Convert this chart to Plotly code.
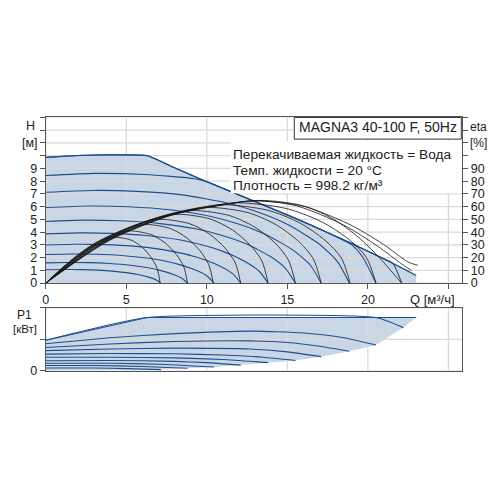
import plotly.graph_objects as go

# ---------------- data ----------------
Q_TICKS = [0, 5, 10, 15, 20, 25]
Q_TICK_TEXT = ["0", "5", "10", "15", "20", ""]
H_TICKS = list(range(14))
H_TICK_TEXT = ["0", "1", "2", "3", "4", "5", "6", "7", "8", "9", "", "", "", ""]
ETA_TICKS = list(range(0, 140, 10))
ETA_TICK_TEXT = ["0", "10", "20", "30", "40", "50", "60", "70", "80", "90", "", "", "", ""]
P_TICKS = [0, 1, 2]
P_TICK_TEXT = ["0", "", ""]

# max curve (H envelope)
env_q = [0, 1.5, 3, 4.5, 6.3, 8, 10, 12.7, 15, 17, 19, 21, 23.0]
env_h = [9.87, 9.98, 10.05, 10.06, 10.0, 9.05, 7.95, 6.55, 5.35, 4.25, 3.1, 1.9, 0.6]

# speed curves H(Q)
h_q = [
    [0, 1.07, 2.15, 3.22, 4.29, 5.0, 5.72, 6.44, 6.86, 7.15],
    [0, 1.32, 2.64, 3.96, 5.28, 6.16, 7.04, 7.92, 8.45, 8.8],
    [0, 1.57, 3.14, 4.7, 6.27, 7.32, 8.36, 9.41, 10.03, 10.45],
    [0, 1.82, 3.63, 5.45, 7.26, 8.47, 9.68, 10.89, 11.62, 12.1],
    [0, 2.07, 4.14, 6.21, 8.28, 9.66, 11.04, 12.42, 13.25, 13.8],
    [0, 2.33, 4.65, 6.98, 9.3, 10.85, 12.4, 13.95, 14.88, 15.5],
    [0, 2.57, 5.13, 7.7, 10.26, 11.97, 13.68, 15.39, 16.42, 17.1],
    [0, 2.83, 5.66, 8.48, 11.31, 13.2, 15.08, 16.97, 18.1, 18.85],
    [0, 3.08, 6.15, 9.23, 10, 12.7, 15, 17, 19, 19.68, 20.5],
    [0, 1.5, 3, 4.5, 6.3, 8, 10, 12.7, 15, 17, 19, 21, 21.55, 22.1],
]
h_h = [
    [1.05, 1.07, 1.06, 1.02, 0.92, 0.82, 0.67, 0.45, 0.25, 0],
    [1.59, 1.62, 1.61, 1.54, 1.4, 1.24, 1.02, 0.68, 0.38, 0],
    [2.24, 2.28, 2.26, 2.17, 1.97, 1.75, 1.43, 0.96, 0.54, 0],
    [2.99, 3.05, 3.02, 2.9, 2.63, 2.33, 1.91, 1.29, 0.72, 0],
    [3.86, 3.94, 3.9, 3.74, 3.4, 3.01, 2.47, 1.66, 0.93, 0],
    [4.84, 4.94, 4.89, 4.69, 4.26, 3.78, 3.1, 2.08, 1.16, 0],
    [5.93, 6.05, 5.99, 5.75, 5.22, 4.63, 3.8, 2.55, 1.42, 0],
    [7.13, 7.27, 7.2, 6.92, 6.27, 5.56, 4.56, 3.07, 1.71, 0],
    [8.44, 8.61, 8.52, 8.19, 7.95, 6.55, 5.35, 4.25, 3.0, 2.03, 0],
    [9.87, 9.98, 10.05, 10.06, 10.0, 9.05, 7.95, 6.55, 5.35, 4.25, 3.1, 1.9, 1.54, 0],
]

# efficiency curves eta(Q) [%]
eta_q = [
    [0, 1.32, 2.64, 3.74, 4.4, 5.35, 6.02, 6.56, 6.91, 7.1],
    [0, 1.59, 3.18, 4.5, 5.3, 6.53, 7.4, 8.1, 8.56, 8.8],
    [0, 1.89, 3.78, 5.36, 6.3, 7.74, 8.76, 9.58, 10.11, 10.4],
    [0, 2.18, 4.35, 6.16, 7.25, 8.95, 10.16, 11.13, 11.76, 12.1],
    [0, 2.49, 4.98, 7.06, 8.3, 10.23, 11.6, 12.7, 13.42, 13.8],
    [0, 2.76, 5.52, 7.82, 9.2, 11.4, 12.98, 14.24, 15.06, 15.5],
    [0, 3.03, 6.06, 8.59, 10.1, 12.55, 14.3, 15.7, 16.61, 17.1],
    [0, 3.3, 6.6, 9.35, 11.0, 13.77, 15.74, 17.32, 18.35, 18.9],
    [0, 3.57, 7.14, 10.1, 11.9, 14.91, 17.06, 18.78, 19.9, 20.5],
    [0, 3.87, 7.74, 10.97, 12.9, 16.12, 17.92, 19.46, 20.66, 22.1],
    [0, 3.9, 7.8, 11.0, 13.1, 15.6, 18.5, 20.6, 22.1, 22.7],
    [0, 3.95, 7.9, 11.1, 13.3, 15.8, 18.8, 20.9, 22.5, 23.1],
]
eta_v = [
    [0, 15.3, 28.0, 34.8, 36.0, 33.5, 27.7, 19.8, 11.5, 0],
    [0, 17.85, 32.3, 39.45, 41.0, 38.1, 31.6, 22.6, 13.1, 0],
    [0, 20.6, 36.0, 44.1, 46.0, 42.8, 35.4, 25.3, 14.7, 0],
    [0, 22.85, 39.2, 47.95, 50.0, 46.5, 38.5, 27.5, 16.0, 0],
    [0, 25.2, 42.6, 51.7, 54.0, 50.2, 41.6, 29.7, 17.3, 0],
    [0, 27.15, 45.1, 54.55, 57.0, 53.0, 43.9, 31.4, 18.2, 0],
    [0, 29.1, 47.6, 56.9, 59.5, 55.3, 45.8, 32.7, 19.0, 0],
    [0, 30.55, 49.6, 58.75, 61.5, 57.2, 47.4, 33.8, 19.7, 0],
    [0, 32.0, 51.4, 60.1, 63.0, 58.6, 48.5, 34.7, 20.2, 0],
    [0, 33.65, 53.2, 61.25, 64.5, 60.0, 49.7, 35.5, 20.6, 0],
    [0, 33.7, 53.6, 61.7, 64.7, 60.5, 45.5, 29.0, 15.0, 10.0],
    [0, 33.45, 53.7, 61.75, 64.9, 61.2, 46.4, 31.0, 16.5, 14.0],
]

# power curves P1(Q) (grid units)
penv_q = [0, 6.3, 23.0]
penv_p = [0.97, 1.69, 1.69]
pbot_q = [23.0, 22.2, 20.5, 18.85, 17.1, 15.5, 13.8, 12.1, 10.45, 8.8, 7.15, 0]
pbot_p = [1.69, 1.37, 0.82, 0.62, 0.45, 0.33, 0.26, 0.18, 0.12, 0.08, 0.04, 0]
p_q = [
    [0, 6.3, 20.5, 22.2],
    [0, 4, 8, 12.7, 16, 18.5, 20.5],
    [0, 4, 8, 12.7, 15, 17, 18.85],
    [0, 4, 8, 12.7, 15, 17.1],
    [0, 4, 8, 11, 13.5, 15.5],
    [0, 4, 8, 11, 13.8],
    [0, 4, 8, 10, 12.1],
    [0, 4, 7, 10.45],
    [0, 3, 6, 8.8],
    [0, 3, 5, 7.15],
]
p_p = [
    [0.97, 1.69, 1.69, 1.37],
    [0.86, 1.05, 1.18, 1.26, 1.2, 1.05, 0.82],
    [0.74, 0.85, 0.93, 0.95, 0.9, 0.78, 0.62],
    [0.64, 0.69, 0.72, 0.69, 0.6, 0.45],
    [0.53, 0.55, 0.54, 0.5, 0.43, 0.33],
    [0.43, 0.43, 0.41, 0.36, 0.26],
    [0.32, 0.33, 0.3, 0.26, 0.18],
    [0.24, 0.24, 0.21, 0.12],
    [0.17, 0.17, 0.14, 0.08],
    [0.09, 0.09, 0.07, 0.04],
]

TITLE = "MAGNA3 40-100 F, 50Hz"
INFO = ["Перекачиваемая жидкость = Вода", "Темп. жидкости = 20 °C", "Плотность = 998.2 кг/м³"]

# ---------------- style ----------------
W = H = 500
OX, OY = 8, 4          # page offset compensation (pixels)
FONT = "Liberation Sans, Arial, sans-serif"
FILL = "#C9D6E6"
BLUE = "#1F4E8E"
ETA_C = "rgba(25,25,25,0.8)"
GRID = "#DADADA"
AXC = "#555555"
Q_MAX = 25.86
H_MAX = 13
P_MAX = 2


def px(x):
    return (x - OX) / W


def py(y):
    return 1 - (y - OY) / H


fig = go.Figure()

fig.add_trace(go.Scatter(x=env_q + [env_q[-1], 0], y=env_h + [0, 0], fill="toself",
                         fillcolor=FILL, line=dict(width=0), mode="lines",
                         xaxis="x", yaxis="y", hoverinfo="skip"))


def grid_trace(xv, yv, xa, ya, ymax, xmax):
    gx, gy = [], []
    for v in xv:
        gx += [v, v, None]
        gy += [0, ymax, None]
    for v in yv:
        gx += [0, xmax, None]
        gy += [v, v, None]
    return go.Scatter(x=gx, y=gy, mode="lines", line=dict(color=GRID, width=1.3),
                      xaxis=xa, yaxis=ya, hoverinfo="skip")


fig.add_trace(grid_trace(Q_TICKS, H_TICKS, "x", "y", H_MAX, Q_MAX))

for qs, hs in zip(h_q, h_h):
    fig.add_trace(go.Scatter(x=qs, y=hs, mode="lines",
                             line=dict(color=BLUE, width=1.1, shape="spline", smoothing=0.6),
                             xaxis="x", yaxis="y", hoverinfo="skip"))
fig.add_trace(go.Scatter(x=env_q, y=env_h, mode="lines",
                         line=dict(color=BLUE, width=1.2, shape="spline", smoothing=0.4),
                         xaxis="x", yaxis="y", hoverinfo="skip"))

for qs, es in zip(eta_q, eta_v):
    fig.add_trace(go.Scatter(x=qs, y=es, mode="lines",
                             line=dict(color=ETA_C, width=1.0, shape="spline", smoothing=0.8),
                             xaxis="x", yaxis="y2", hoverinfo="skip"))

fig.add_trace(go.Scatter(x=penv_q + pbot_q, y=penv_p + pbot_p, fill="toself", fillcolor=FILL,
                         line=dict(width=0), mode="lines", xaxis="x2", yaxis="y3", hoverinfo="skip"))
fig.add_trace(grid_trace(Q_TICKS, P_TICKS, "x2", "y3", P_MAX, Q_MAX))
for qs, ps in zip(p_q, p_p):
    fig.add_trace(go.Scatter(x=qs, y=ps, mode="lines",
                             line=dict(color=BLUE, width=1.1, shape="spline", smoothing=0.5),
                             xaxis="x2", yaxis="y3", hoverinfo="skip"))
fig.add_trace(go.Scatter(x=penv_q, y=penv_p, mode="lines", line=dict(color=BLUE, width=1.2),
                         xaxis="x2", yaxis="y3", hoverinfo="skip"))

XDOM = [px(43), px(462)]
tickfont = dict(family=FONT, size=12.5, color="#222")
axbase = dict(showgrid=False, zeroline=False, linecolor=AXC, linewidth=1, mirror=True,
              tickfont=tickfont, ticklen=5, tickcolor=AXC, fixedrange=True)

fig.update_layout(
    width=W, height=H, margin=dict(l=0, r=0, t=0, b=0),
    paper_bgcolor="white", plot_bgcolor="white", showlegend=False,
    xaxis=dict(axbase, domain=XDOM, range=[0, Q_MAX], anchor="y", tickmode="array",
               tickvals=Q_TICKS, ticktext=Q_TICK_TEXT, ticks="outside"),
    yaxis=dict(axbase, domain=[py(283), py(115)], range=[0, H_MAX], anchor="x", tickmode="array",
               tickvals=H_TICKS, ticktext=H_TICK_TEXT, ticks="outside"),
    yaxis2=dict(axbase, overlaying="y", side="right", range=[0, H_MAX * 10], anchor="x", tickmode="array",
                tickvals=ETA_TICKS, ticktext=ETA_TICK_TEXT, ticks="outside", mirror=False),
    xaxis2=dict(axbase, domain=XDOM, range=[0, Q_MAX], anchor="y3", showticklabels=False, ticks=""),
    yaxis3=dict(axbase, domain=[py(372), py(308)], range=[0, P_MAX], anchor="x2", tickmode="array",
                tickvals=P_TICKS, ticktext=P_TICK_TEXT, ticks="outside"),
)

fig.add_shape(type="rect", xref="paper", yref="paper", x0=px(229), x1=px(461), y0=py(192), y1=py(139),
              fillcolor="white", line=dict(width=0), layer="above")
fig.add_shape(type="rect", xref="paper", yref="paper", x0=px(293), x1=px(461), y0=py(137), y1=py(115),
              fillcolor="white", line=dict(color="#333", width=1), layer="above")

ann = []


def txt(t, x, y, xanchor="center", size=12.5):
    ann.append(dict(text=t, x=px(x), y=py(y), xref="paper", yref="paper", showarrow=False,
                    xanchor=xanchor, yanchor="middle", font=dict(family=FONT, size=size, color="#222")))


txt(TITLE, 377, 125, size=14)
for i, line in enumerate(INFO):
    txt(line, 229, 153 + 15.5 * i, xanchor="left", size=13.7)
txt("H", 28, 124)
txt("[м]", 27, 141)
txt("eta", 478, 125, size=12)
txt("[%]", 478, 141, size=12)
txt("Q [м³/ч]", 457, 300, xanchor="right", size=13)
txt("P1", 22, 315, size=12)
txt("[кВт]", 22, 330, size=11.5)
fig.update_layout(annotations=ann)

fig.write_html("out.html")
